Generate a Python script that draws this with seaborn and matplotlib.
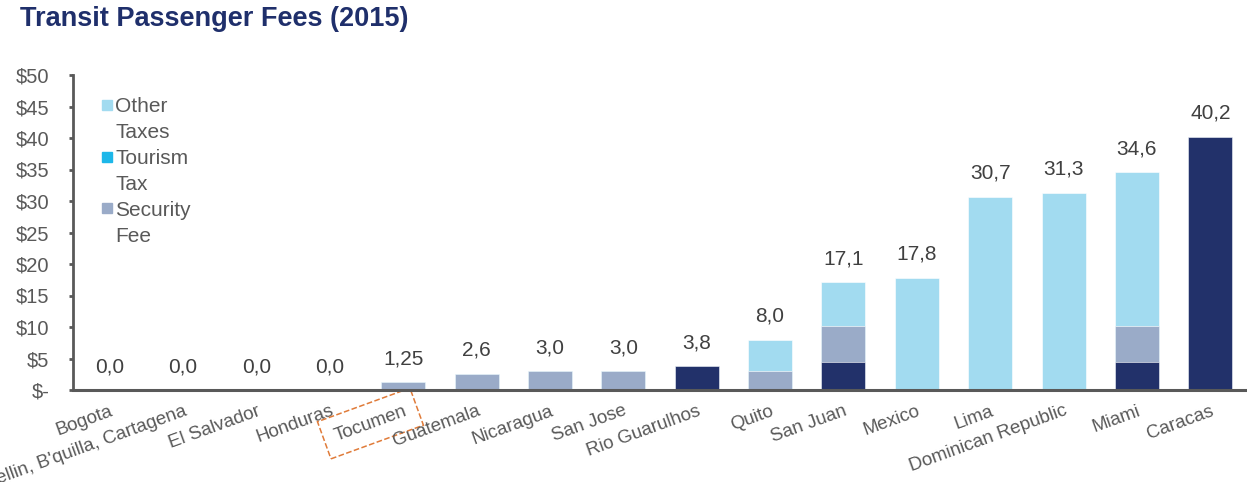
import numpy as np
import pandas as pd
import matplotlib
matplotlib.use("Agg")
import matplotlib.pyplot as plt
from matplotlib.lines import Line2D
import seaborn as sns

# Fee components per airport (USD, 2015)
airports = ["Bogota", "Medellin, B'quilla, Cartagena", "El Salvador", "Honduras",
            "Tocumen", "Guatemala", "Nicaragua", "San Jose", "Rio Guarulhos",
            "Quito", "San Juan", "Mexico", "Lima", "Dominican Republic",
            "Miami", "Caracas"]
passenger_charge = [0, 0, 0, 0, 0, 0, 0, 0, 3.8, 0, 4.5, 0, 0, 0, 4.5, 40.2]
security_fee = [0, 0, 0, 0, 1.25, 2.6, 3.0, 3.0, 0, 3.0, 5.6, 0, 0, 0, 5.6, 0]
tourism_tax = [0] * 16
other_taxes = [0, 0, 0, 0, 0, 0, 0, 0, 0, 5.0, 7.0, 17.8, 30.7, 31.3, 24.5, 0]
y_ticks = [0, 5, 10, 15, 20, 25, 30, 35, 40, 45, 50]
legend_lines = [("Other", "other"), ("Taxes", None), ("Tourism", "tourism"),
                ("Tax", None), ("Security", "security"), ("Fee", None)]

NAVY = "#22316A"
SECURITY = "#9AABC8"
TOURISM = "#1DB7E9"
OTHER = "#A2DBF0"
TEXT = "#595959"
palette = {"other": OTHER, "tourism": TOURISM, "security": SECURITY}

sns.set_style("white")
plt.rcParams["font.family"] = ["Liberation Sans", "DejaVu Sans"]

df = pd.DataFrame({
    "airport": airports,
    "charge": passenger_charge,
    "security": security_fee,
    "tourism": tourism_tax,
    "other": other_taxes,
})
df["cum_security"] = df["charge"] + df["security"]
df["cum_tourism"] = df["cum_security"] + df["tourism"]
df["total"] = (df["cum_tourism"] + df["other"]).round(2)

fig = plt.figure(figsize=(12.47, 4.82), dpi=100)
ax = fig.add_axes([73 / 1247, 92 / 482, (1247 - 73) / 1247, 315 / 482])

# Stacked bars drawn as overlapping cumulative layers, tallest first
layers = [("total", OTHER), ("cum_tourism", TOURISM),
          ("cum_security", SECURITY), ("charge", NAVY)]
for col, colour in layers:
    sns.barplot(data=df, x="airport", y=col, order=airports, color=colour,
                saturation=1, width=0.6, errorbar=None, ax=ax,
                edgecolor="white", linewidth=0.4)


def fmt_total(v):
    s = f"{v:.1f}" if round(v, 1) == v else f"{v:.2f}"
    return s.replace(".", ",")


for i, v in enumerate(df["total"]):
    ax.annotate(fmt_total(v), (i, v), xytext=(0, 10), textcoords="offset points",
                ha="center", va="bottom", fontsize=15, color="#404040")

ax.set_xlim(-0.5, len(airports) - 0.5)
ax.set_ylim(0, 50)
ax.set_yticks(y_ticks)
ax.set_yticklabels(["$-" if t == 0 else f"${t}" for t in y_ticks],
                   fontsize=14.5, color=TEXT)
ax.set_xlabel("")
ax.set_ylabel("")

ax.tick_params(axis="y", which="major", direction="out", length=3, width=2,
               color="#595959", left=True, pad=14)
ax.tick_params(axis="x", length=0, pad=9)
ax.set_xticks(range(len(airports)))
ax.set_xticklabels(airports, rotation=20, ha="right", rotation_mode="anchor",
                   fontsize=13.5, color=TEXT)
for lab in ax.get_xticklabels():
    if lab.get_text() == "Tocumen":
        lab.set_bbox(dict(boxstyle="square,pad=0.6", fc="none",
                          ec="#E07B39", ls="--", lw=1.1))

for side in ("top", "right"):
    ax.spines[side].set_visible(False)
ax.spines["left"].set_color("#595959")
ax.spines["left"].set_linewidth(2)
ax.spines["bottom"].set_color("#595959")
ax.spines["bottom"].set_linewidth(2.2)
ax.grid(False)

# Legend: swatch sits beside the first line of each two-line label
handles = []
for text, key in legend_lines:
    if key is None:
        handles.append(Line2D([], [], ls="none", marker=None))
    else:
        c = palette[key]
        handles.append(Line2D([], [], marker="s", ls="none", markersize=7.5,
                              markerfacecolor=c, markeredgecolor=c))
leg = ax.legend(handles, [t for t, _ in legend_lines],
                loc="upper left", bbox_to_anchor=(0.0176, 0.956), frameon=False,
                fontsize=15, handlelength=0.5, handletextpad=0.14,
                labelspacing=0.33, borderaxespad=0)
for t in leg.get_texts():
    t.set_color(TEXT)

fig.text(20 / 1247, 1 - 19 / 482, "Transit Passenger Fees (2015)",
         fontsize=19.5, fontweight="bold", color="#1F2F6B",
         ha="left", va="center")

fig.savefig("out.png", dpi=100)
